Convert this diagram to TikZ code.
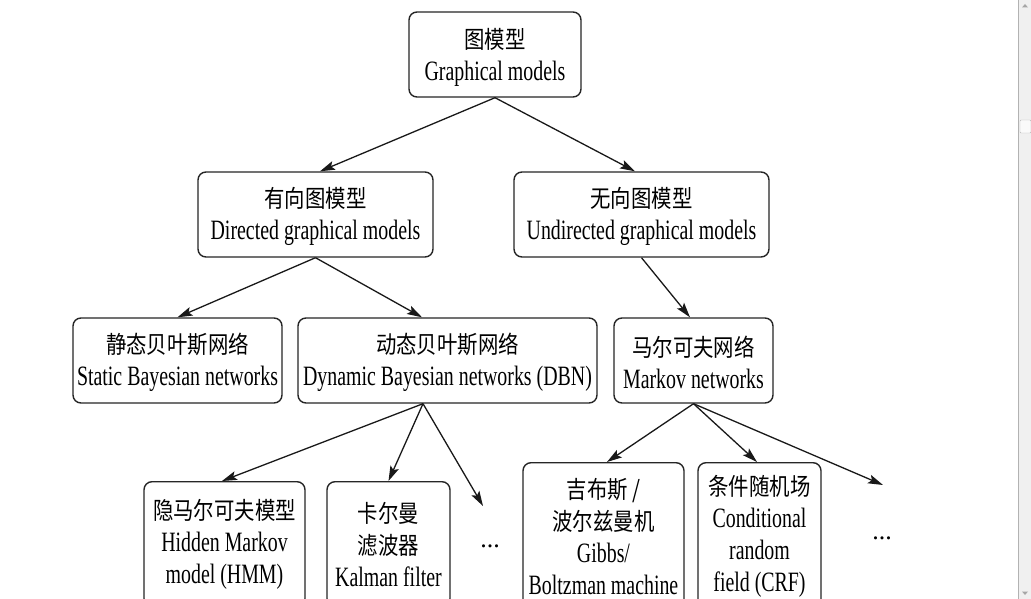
\documentclass[tikz,border=0pt]{standalone}
\usepackage{fontspec}
\setmainfont{Liberation Serif}[FakeStretch=0.71]
\newfontfamily\cjkf{Noto Sans CJK SC}[FakeStretch=0.85]
\newfontfamily\dotf{Liberation Serif}
\usetikzlibrary{arrows.meta}
\newcommand\myfs{\fontsize{28}{32}\selectfont}
\newcommand\zh[1]{{\fontsize{24}{32}\cjkf #1}}
\newcommand\zt[1]{\rule{0pt}{25pt}{\fontsize{24}{32}\cjkf #1}}
\begin{document}
\begin{tikzpicture}[x=1pt,y=-1pt,
  box/.style={draw=black!85, line width=1.4pt, rounded corners=8pt, inner sep=0pt,
    align=center, font=\myfs},
  arr/.style={-{Stealth[length=15pt,width=9pt,inset=3pt]}, line width=1.3pt, draw=black!90},
  dots/.style={inner sep=0pt, anchor=base, font=\fontsize{26}{26}\dotf}]
\useasboundingbox (0,0) rectangle (1031,599);
\clip (0,0) rectangle (1031,599);
\fill[white] (0,0) rectangle (1031,599);
% scrollbar
\fill[gray!12] (1019,0) rectangle (1031,599);
\draw[gray!60, line width=0.8pt] (1018.5,0) -- (1018.5,599);
\draw[gray!55, fill=gray!4, rounded corners=1pt] (1020,120) rectangle (1031,133);
\fill[gray!70] (1025,4) -- (1022,7.5) -- (1028,7.5) -- cycle;
\fill[gray!70] (1022,591.5) -- (1028,591.5) -- (1025,595) -- cycle;

% nodes
\node[box, minimum width=172pt, minimum height=85pt] (root) at (495,54.5)
  {\zt{图模型}\\Graphical models};
\node[box, minimum width=235pt, minimum height=85pt] (dir) at (315.5,214.5)
  {\zt{有向图模型}\\Directed graphical models};
\node[box, minimum width=255pt, minimum height=85pt] (undir) at (641.5,214.5)
  {\zt{无向图模型}\\Undirected graphical models};
\node[box, minimum width=209pt, minimum height=85pt] (static) at (177.5,360.5)
  {\zt{静态贝叶斯网络}\\Static Bayesian networks};
\node[box, minimum width=299pt, minimum height=85pt] (dyn) at (447.5,360.5)
  {\zt{动态贝叶斯网络}\\Dynamic Bayesian networks (DBN)};
\node[box, minimum width=159pt, minimum height=85pt] (markov) at (693.5,360.5)
  {\zt{马尔可夫网络}\\Markov networks};
\node[box, anchor=north, minimum width=161pt, minimum height=125pt] (hmm) at (224.5,481)
  {\zh{隐马尔可夫模型}\\Hidden Markov\\model (HMM)};
\node[box, anchor=north, minimum width=123pt, minimum height=125pt] (kalman) at (388.5,481)
  {\zh{卡尔曼}\\\zh{滤波器}\\Kalman filter};
\node[box, anchor=north, minimum width=161pt, minimum height=148pt] (gibbs) at (603.5,462)
  {\zh{吉布斯 /}\\\zh{波尔兹曼机}\\Gibbs/\\Boltzman machine};
\node[box, anchor=north, minimum width=123pt, minimum height=148pt] (crf) at (759.5,462)
  {\zh{条件随机场}\\Conditional\\random\\field (CRF)};
\node[dots] (dots1) at (490,547) {...};
\node[dots] (dots2) at (882,539) {...};
\coordinate (e1) at (483,506);
\coordinate (e2) at (883,485);

% connectors
\draw[arr] (root.south) -- ([xshift=4.5pt]dir.north);
\draw[arr] (root.south) -- ([xshift=-6.5pt]undir.north);
\draw[arr] (dir.south) -- (static.north);
\draw[arr] (dir.south) -- ([xshift=-25.5pt]dyn.north);
\draw[arr] (undir.south) -- ([xshift=-3.5pt]markov.north);
\draw[arr] ([xshift=-24.5pt]dyn.south) -- ([xshift=-2.5pt]hmm.north);
\draw[arr] ([xshift=-24.5pt]dyn.south) -- (kalman.north);
\draw[arr] ([xshift=-24.5pt]dyn.south) -- (e1);
\draw[arr] (markov.south) -- ([xshift=3.5pt]gibbs.north);
\draw[arr] (markov.south) -- ([xshift=-2.5pt]crf.north);
\draw[arr] (markov.south) -- (e2);
\end{tikzpicture}
\end{document}
